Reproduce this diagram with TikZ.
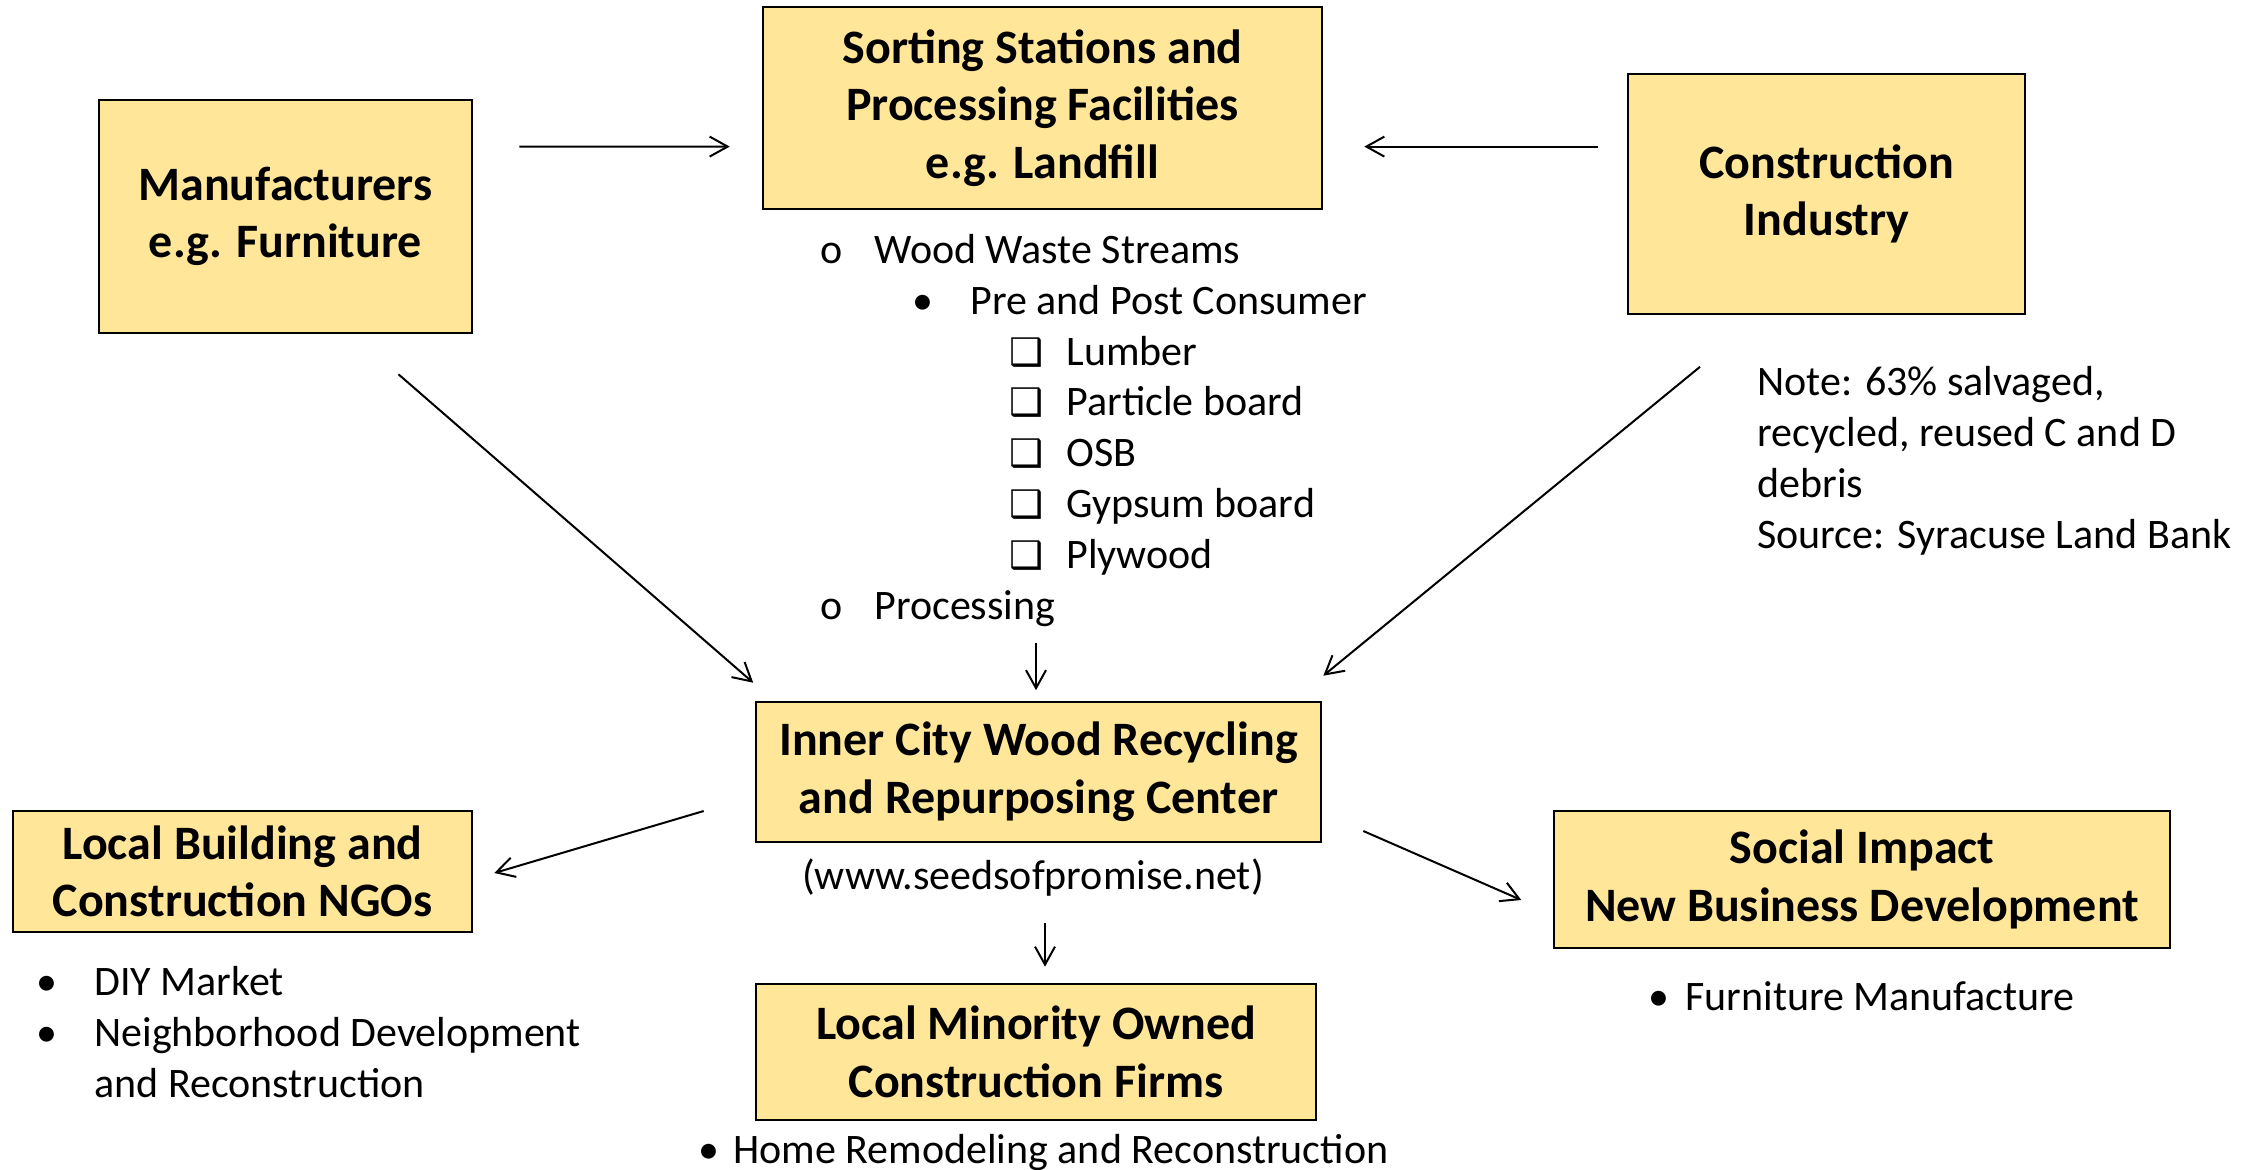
\documentclass[tikz,border=0pt]{standalone}
\usepackage{fontspec}
\setmainfont{Carlito}
\newfontfamily\boxsym{DejaVu Sans}
\usetikzlibrary{arrows.meta}
\definecolor{boxfill}{RGB}{255,230,153}
\newcommand{\chk}{{\boxsym\fontsize{19}{20}\selectfont ❑}}

\begin{document}
\begin{tikzpicture}[x=0.5pt,y=-0.5pt,
	box/.style={draw=black,line width=1.3pt,fill=boxfill,align=center,inner sep=0pt,font=\fontsize{24}{28.8}\selectfont\bfseries},
	lst/.style={align=left,inner sep=0pt,anchor=base west,font=\fontsize{21}{25.4}\selectfont},
	arr/.style={line width=1pt,-{Straight Barb[length=9pt,width=10pt]}}]
				\useasboundingbox (0,0) rectangle (2264,1169);
				
				% Text Node
				\node[box,minimum width=186.5pt,minimum height=116.5pt] (man) at (285.5,216.5) {Manufacturers\\e.g. Furniture};
				% Text Node
				\node[box,minimum width=279.5pt,minimum height=101pt] (sort) at (1042.5,108) {Sorting Stations and\\Processing Facilities\\e.g. Landfill};
				% Text Node
				\node[box,minimum width=198.5pt,minimum height=120pt] (cons) at (1826.5,194) {Construction\\Industry};
				% Text Node
				\node[box,minimum width=282.5pt,minimum height=70pt] (inner) at (1038.5,772) {Inner City Wood Recycling\\and Repurposing Center};
				% Text Node
				\node[box,minimum width=280pt,minimum height=68pt] (minor) at (1036,1052) {Local Minority Owned\\Construction Firms};
				% Text Node
				\node[box,minimum width=229.5pt,minimum height=60.5pt] (ngo) at (242.5,871.5) {Local Building and\\Construction NGOs};
				% Text Node
				\node[box,minimum width=308pt,minimum height=68.5pt] (social) at (1862,879.5) {Social Impact\\New Business Development};
				
				% Text Node (base = last line)
				\node[lst] (waste) at (820,619) {\makebox[27pt][l]{o}Wood Waste Streams\\
					\hspace*{46pt}\makebox[29pt][l]{•}Pre and Post Consumer\\
					\hspace*{94.5pt}\makebox[28.5pt][l]{\chk}Lumber\\
					\hspace*{94.5pt}\makebox[28.5pt][l]{\chk}Particle board\\
					\hspace*{94.5pt}\makebox[28.5pt][l]{\chk}OSB\\
					\hspace*{94.5pt}\makebox[28.5pt][l]{\chk}Gypsum board\\
					\hspace*{94.5pt}\makebox[28.5pt][l]{\chk}Plywood\\
					\makebox[27pt][l]{o}Processing};
				% Text Node
				\node[lst] (note) at (1757,548) {Note: 63\% salvaged,\\recycled, reused C and D\\debris\\Source: Syracuse Land Bank};
				% Text Node
				\node[lst,anchor=base] (url) at (1033,889) {(www.seedsofpromise.net)};
				% Text Node
				\node[lst] (diy) at (36,1097) {\makebox[29pt][l]{•}DIY Market\\
					\makebox[29pt][l]{•}Neighborhood Development\\
					\hspace*{29pt}and Reconstruction};
				% Text Node
				\node[lst] (furn) at (1648,1010) {\makebox[18.5pt][l]{•}Furniture Manufacture};
				% Text Node
				\node[lst] (home) at (698,1163) {\makebox[17.5pt][l]{•}Home Remodeling and Reconstruction};
				
				% Connection
				\draw[arr] ([shift={(46,-70)}]man.east) -- ([shift={(-32,38.6)}]sort.west);
				% Connection
				\draw[arr] ([shift={(-29,-47.4)}]cons.west) -- ([shift={(41,38.6)}]sort.east);
				% Connection
				\draw[arr] ([shift={(113,40)}]man.south) -- ([shift={(-1.5,-18)}]inner.north west);
				% Connection
				\draw[arr] ([shift={(-126.5,51.5)}]cons.south) -- ([shift={(1,-25)}]inner.north east);
				% Connection
				\draw[arr] ([shift={(-2.5,-58)}]inner.north) -- ([shift={(-2.5,-10.5)}]inner.north);
				% Connection
				\draw[arr] ([shift={(-51,39)}]inner.west) -- ([shift={(21,1.5)}]ngo.east);
				% Connection
				\draw[arr] ([shift={(41,59)}]inner.east) -- ([shift={(-31.4,20.5)}]social.west);
				% Connection
				\draw[arr] ([shift={(6.5,80)}]inner.south) -- ([shift={(9,-16)}]minor.north);
				
\end{tikzpicture}
\end{document}
